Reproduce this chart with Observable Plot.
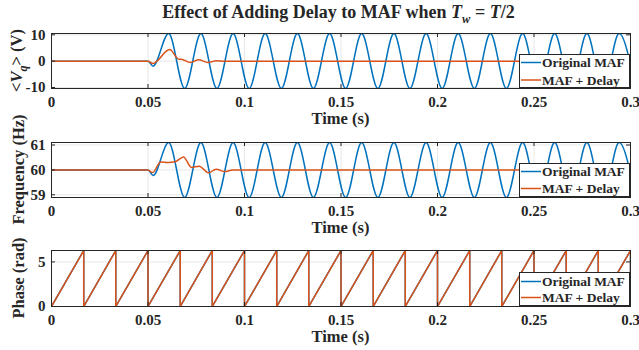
<!DOCTYPE html>
<html>
<head>
<meta charset="utf-8">
<script src="https://cdn.jsdelivr.net/npm/d3@7"></script>
<script src="https://cdn.jsdelivr.net/npm/@observablehq/plot@0.6"></script>
<style>
  body { margin: 0; background: #fff; }
  #wrap { position: relative; width: 639px; height: 350px; overflow: hidden; background: #fff;
          font-family: "Liberation Serif", "Times New Roman", serif; font-weight: bold; color: #262626; }
  #title { position: absolute; left: 49px; width: 579px; top: 2px; text-align: center;
           font-size: 18px; white-space: nowrap; line-height: 20px; }
  #title sub { font-size: 12.5px; vertical-align: -5px; line-height: 0; }
  .panel { position: absolute; left: 0; }
  .panel svg { overflow: visible; }
</style>
</head>
<body>
<div id="wrap">
  <div id="title">Effect of Adding Delay to MAF when&nbsp;<i>T</i><sub><i>w</i></sub> = <i>T</i>/2</div>
</div>
<script>
// ---------- shared axis data ----------
const xTicks = [0, 0.05, 0.1, 0.15, 0.2, 0.25, 0.3];
const xTickLabels = ["0", "0.05", "0.1", "0.15", "0.2", "0.25", "0.3"];
const seriesNames = ["Original MAF", "MAF + Delay"];
const seriesColors = ["#0072BD", "#D95319"];

// ---------- panel 1: <Vq> (V) ----------
const vqTicks = [-10, 0, 10];
const vqTickLabels = ["-10", "0", "10"];
const vqDomain = [-10.38, 10.5];
const blueT = [0, 0.05, 0.0526, 0.0607, 0.0690, 0.0774, 0.0857, 0.0941, 0.1024, 0.1107, 0.1191,
  0.1274, 0.1357, 0.1441, 0.1524, 0.1607, 0.1691, 0.1774, 0.1857, 0.1941, 0.2024, 0.2107, 0.2191,
  0.2274, 0.2357, 0.2441, 0.2524, 0.2607, 0.2691, 0.2774, 0.2857, 0.2941, 0.3024];
const blueVq = [0, 0, -1.9, 10.5, -10.38, 10.5, -10.38, 10.5, -10.38, 10.5, -10.38,
  10.5, -10.38, 10.5, -10.38, 10.5, -10.38, 10.5, -10.38, 10.5, -10.38, 10.5, -10.38,
  10.5, -10.38, 10.5, -10.38, 10.5, -10.38, 10.5, -10.38, 10.5, -10.38];
const orangeVqT = [0, 0.05, 0.0526, 0.0612, 0.0660, 0.0672, 0.0719, 0.0763, 0.0810, 0.0855, 0.0895, 0.0940, 0.3];
const orangeVq  = [0, 0, -0.9, 4.4, 0.75, 0.75, -0.5, 0.5, -0.5, 0.15, -0.08, 0, 0];

// ---------- panel 2: Frequency (Hz) ----------
const fTicks = [59, 60, 61];
const fTickLabels = ["59", "60", "61"];
const fDomain = [58.89, 61.1];
const blueF = [60, 60, 59.77, 61.1, 58.89, 61.1, 58.89, 61.1, 58.89, 61.1, 58.89,
  61.1, 58.89, 61.1, 58.89, 61.1, 58.89, 61.1, 58.89, 61.1, 58.89, 61.1, 58.89,
  61.1, 58.89, 61.1, 58.89, 61.1, 58.89, 61.1, 58.89, 61.1, 58.89];
const orangeFT = [0, 0.05, 0.0523, 0.0566, 0.0605, 0.0641, 0.0684, 0.0725, 0.0765, 0.0814, 0.0853, 0.0898, 0.0940, 0.3];
const orangeF  = [60, 60, 59.89, 60.32, 60.30, 60.33, 60.52, 60.10, 60.15, 59.88, 60.03, 59.93, 60, 60];

// ---------- panel 3: Phase (rad) ----------
const pTicks = [0, 5];
const pTickLabels = ["0", "5"];
const phaseMax = 6.2832;
const pDomain = [0, phaseMax];
const resetT = [0.0167, 0.0333, 0.05, 0.0667, 0.0833, 0.1, 0.1167, 0.1333, 0.15, 0.1667,
  0.1833, 0.2, 0.2167, 0.2333, 0.25, 0.2667, 0.2833, 0.3];

// ---------- build tables ----------
const zip = (ts, vs) => ts.map((t, i) => ({t, v: vs[i]}));
const sawtooth = [{t: 0, v: 0}];
resetT.forEach(r => { sawtooth.push({t: r, v: phaseMax}); sawtooth.push({t: r, v: 0}); });

const fontFam = '"Liberation Serif", "Times New Roman", serif';
const ink = "#262626";
const wrap = document.getElementById("wrap");

function panel(cfg) {
  const {top, height, mt, mb, yDomain, yTicks, yTickLabels, lines, curve, yLabel, yLabelX, legendDy} = cfg;
  const mL = 51, mR = 9, W = 639;
  const fh = height - mt - mb, fw = W - mL - mR;
  const xMap = new Map(xTicks.map((t, i) => [t, xTickLabels[i]]));
  const yMap = new Map(yTicks.map((t, i) => [t, yTickLabels[i]]));
  const chart = Plot.plot({
    width: W, height, marginLeft: mL, marginRight: mR, marginTop: mt, marginBottom: mb,
    style: {fontFamily: fontFam, fontSize: "15px", fontWeight: "bold", color: ink, background: "transparent", overflow: "visible"},
    x: {domain: [0, 0.3]},
    y: {domain: yDomain},
    marks: [
      Plot.gridX(xTicks, {stroke: "#e8e8e8", strokeOpacity: 1}),
      Plot.gridY(yTicks, {stroke: "#e8e8e8", strokeOpacity: 1}),
      ...lines.map((data, i) => Plot.line(data, {x: "t", y: "v", stroke: seriesColors[i], strokeWidth: 1.5, curve, clip: true})),
      Plot.tickX(xTicks, {x: d => d, insetTop: fh - 4, stroke: ink}),
      Plot.tickX(xTicks, {x: d => d, insetBottom: fh - 4, stroke: ink}),
      Plot.tickY(yTicks, {y: d => d, insetRight: fw - 4, stroke: ink}),
      Plot.tickY(yTicks, {y: d => d, insetLeft: fw - 4, stroke: ink}),
      Plot.frame({stroke: ink}),
      Plot.axisX(xTicks, {tickSize: 0, tickPadding: 8, tickFormat: d => xMap.get(d), label: null, fill: ink}),
      Plot.axisY(yTicks, {tickSize: 0, tickPadding: 6, tickFormat: d => yMap.get(d), label: null, fill: ink})
    ]
  });
  const svg = d3.select(chart);
  // x axis title
  svg.append("text")
    .attr("x", mL + fw / 2).attr("y", height - mb + 36)
    .attr("text-anchor", "middle").attr("font-size", "16.5px").attr("font-weight", "bold")
    .attr("font-family", fontFam).attr("fill", ink).text("Time (s)");
  // y axis title
  const yl = svg.append("text")
    .attr("transform", `translate(${yLabelX},${mt + fh / 2}) rotate(-90)`)
    .attr("text-anchor", "middle").attr("font-size", "16.5px").attr("font-weight", "bold")
    .attr("font-family", fontFam).attr("fill", ink);
  yLabel(yl);
  // legend
  const lw = 111, lh = 34;
  const lx = mL + fw - lw, ly = mt + fh - lh;
  const lg = svg.append("g").attr("transform", `translate(${lx},${ly})`);
  lg.append("rect").attr("x", 0.5).attr("y", 0.5).attr("width", lw - 1).attr("height", lh - 1)
    .style("fill", "#ffffff").style("stroke", ink).attr("stroke-width", 1);
  seriesNames.forEach((name, i) => {
    const yy = legendDy[i];
    lg.append("line").attr("x1", 2).attr("x2", 22).attr("y1", yy).attr("y2", yy)
      .style("stroke", seriesColors[i]).attr("stroke-width", 1.5);
    lg.append("text").attr("x", 23).attr("y", yy).attr("dy", "0.35em")
      .attr("text-anchor", "start")
      .attr("font-size", "13.5px").attr("font-weight", "bold").attr("font-family", fontFam)
      .style("fill", ink).text(name);
  });
  const div = document.createElement("div");
  div.className = "panel";
  div.style.top = top + "px";
  div.appendChild(chart);
  wrap.appendChild(div);
}

panel({
  top: 20, height: 116, mt: 13, mb: 48,
  yDomain: vqDomain, yTicks: vqTicks, yTickLabels: vqTickLabels,
  lines: [zip(blueT, blueVq), zip(orangeVqT, orangeVq)], curve: "monotone-x",
  yLabelX: 21.5, legendDy: [8.5, 26],
  yLabel: t => {
    t.append("tspan").text("<");
    t.append("tspan").attr("font-style", "italic").text("V");
    t.append("tspan").attr("font-style", "italic").attr("font-size", "12px").attr("dy", 5).text("q");
    t.append("tspan").attr("dy", -5).text("> (V)");
  }
});

panel({
  top: 136, height: 106, mt: 6, mb: 45,
  yDomain: fDomain, yTicks: fTicks, yTickLabels: fTickLabels,
  lines: [zip(blueT, blueF), zip(orangeFT, orangeF)], curve: "monotone-x",
  yLabelX: 24, legendDy: [8.5, 25.5],
  yLabel: t => t.text("Frequency (Hz)")
});

panel({
  top: 242, height: 108, mt: 8, mb: 44,
  yDomain: pDomain, yTicks: pTicks, yTickLabels: pTickLabels,
  lines: [sawtooth, sawtooth], curve: "linear",
  yLabelX: 24, legendDy: [9.5, 25.5],
  yLabel: t => t.text("Phase (rad)")
});
</script>
</body>
</html>
